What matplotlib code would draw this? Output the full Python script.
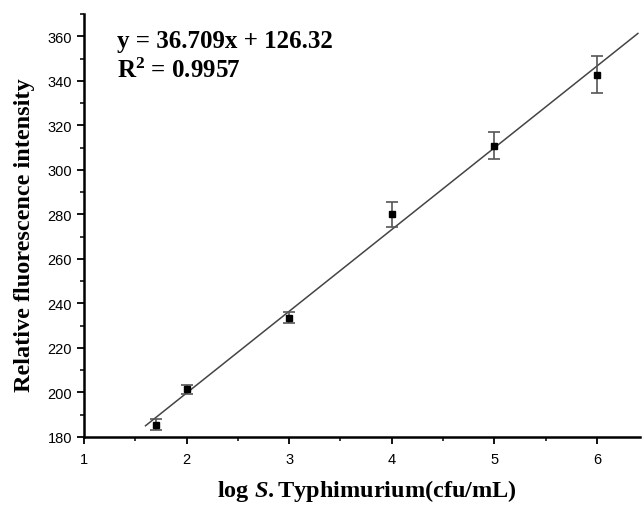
import matplotlib.pyplot as plt
import numpy as np
from matplotlib.ticker import MultipleLocator

plt.rcParams['mathtext.fontset'] = 'custom'
plt.rcParams['mathtext.rm'] = 'Liberation Serif:bold'
plt.rcParams['mathtext.bf'] = 'Liberation Serif:bold'
plt.rcParams['mathtext.it'] = 'Liberation Serif:bold:italic'
plt.rcParams['mathtext.bfit'] = 'Liberation Serif:bold:italic'

# data
log_conc = [1.7, 2, 3, 4, 5, 6]
intensity = [185.5, 201.5, 233.5, 280, 310.8, 342.8]
err = [2.5, 2, 2.5, 5.5, 6, 8.5]

slope, intercept = 36.709, 126.32
fit_x = np.array([1.6, 6.4])

fig = plt.figure(figsize=(6.42, 5.06), dpi=100)
ax = fig.add_axes([0.1308, 0.1344, 0.866, 0.836])

ax.plot(fit_x, slope * fit_x + intercept, color='#444444', lw=1.1)
ax.errorbar(log_conc, intensity, yerr=err, fmt='s', color='black', ms=4,
            ecolor='#555555', elinewidth=1.2, capsize=4, capthick=1.2)

ax.set_xlim(1, 6.42)
ax.set_ylim(180, 370)
ax.xaxis.set_major_locator(MultipleLocator(1))
ax.xaxis.set_minor_locator(MultipleLocator(0.5))
ax.yaxis.set_major_locator(MultipleLocator(20))
ax.yaxis.set_minor_locator(MultipleLocator(10))

for s in ['top', 'right']:
    ax.spines[s].set_visible(False)
for s in ['left', 'bottom']:
    ax.spines[s].set_linewidth(1.8)

ax.tick_params(which='major', direction='out', length=5, width=1.3,
               labelsize=10.5, colors='black')
ax.tick_params(which='minor', direction='out', length=3, width=1.1)
for lab in ax.get_xticklabels() + ax.get_yticklabels():
    lab.set_fontfamily('Liberation Sans')
ax.tick_params(axis='x', pad=6)

ax.set_ylabel('Relative fluorescence intensity', fontfamily='Liberation Serif',
              fontweight='bold', fontsize=17.5)
ax.yaxis.set_label_coords(-0.088, 0.48)
ax.set_xlabel(r'log $\mathit{S.}$Typhimurium(cfu/mL)', fontfamily='Liberation Serif',
              fontweight='bold', fontsize=17.5)
ax.xaxis.set_label_coords(0.509, -0.094)

ax.text(0.06, 0.922, 'y = 36.709x + 126.32', transform=ax.transAxes,
        fontfamily='Liberation Serif', fontweight='bold', fontsize=18, va='baseline')
ax.text(0.06, 0.851, r'R$^{\mathbf{2}}$ = 0.9957', transform=ax.transAxes,
        fontfamily='Liberation Serif', fontweight='bold', fontsize=18, va='baseline')

fig.savefig('out.png', dpi=100)
